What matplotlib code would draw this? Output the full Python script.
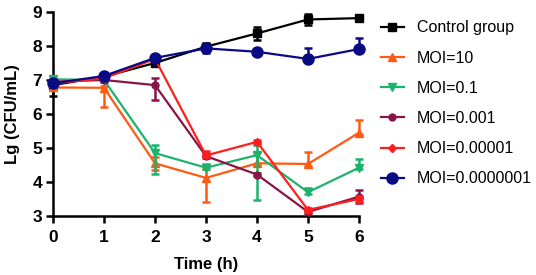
import numpy as np
import matplotlib
matplotlib.use("Agg")
import matplotlib.pyplot as plt
from matplotlib.lines import Line2D

plt.rcParams['font.family'] = ['Liberation Sans', 'DejaVu Sans']

hours = [0, 1, 2, 3, 4, 5, 6]

labels = ["Control group", "MOI=10", "MOI=0.1", "MOI=0.001",
          "MOI=0.00001", "MOI=0.0000001"]

# mean values, with lower / upper error bar lengths
control = [6.85, 7.10, 7.50, 7.98, 8.37, 8.78, 8.82]
control_lo = [0.33, 0.05, 0.05, 0.10, 0.20, 0.15, 0.05]
control_hi = [0.15, 0.05, 0.08, 0.10, 0.20, 0.15, 0.05]

moi_10 = [6.78, 6.77, 4.55, 4.12, 4.55, 4.53, 5.45]
moi_10_lo = [0.05, 0.57, 0.20, 0.72, 0.05, 0.05, 0.05]
moi_10_hi = [0.05, 0.05, 0.20, 0.26, 0.30, 0.35, 0.38]

moi_0_1 = [7.02, 7.00, 4.85, 4.42, 4.79, 3.70, 4.42]
moi_0_1_lo = [0.05, 0.05, 0.60, 0.05, 1.32, 0.05, 0.05]
moi_0_1_hi = [0.08, 0.05, 0.25, 0.10, 0.30, 0.12, 0.27]

moi_0_001 = [6.95, 7.00, 6.85, 4.76, 4.22, 3.12, 3.57]
moi_0_001_lo = [0.05, 0.05, 0.44, 0.05, 0.05, 0.05, 0.20]
moi_0_001_hi = [0.05, 0.05, 0.22, 0.08, 0.05, 0.05, 0.20]

moi_1e5 = [6.90, 7.05, 7.62, 4.78, 5.18, 3.18, 3.50]
moi_1e5_lo = [0.05, 0.05, 0.05, 0.05, 0.05, 0.05, 0.08]
moi_1e5_hi = [0.05, 0.05, 0.05, 0.12, 0.05, 0.06, 0.10]

moi_1e7 = [6.90, 7.12, 7.65, 7.93, 7.83, 7.62, 7.91]
moi_1e7_lo = [0.05, 0.05, 0.05, 0.15, 0.05, 0.05, 0.05]
moi_1e7_hi = [0.05, 0.05, 0.05, 0.05, 0.08, 0.33, 0.33]

series = [control, moi_10, moi_0_1, moi_0_001, moi_1e5, moi_1e7]
err_lo = [control_lo, moi_10_lo, moi_0_1_lo, moi_0_001_lo, moi_1e5_lo, moi_1e7_lo]
err_hi = [control_hi, moi_10_hi, moi_0_1_hi, moi_0_001_hi, moi_1e5_hi, moi_1e7_hi]

colors = ["#000000", "#FF5A14", "#1DB36E", "#8A1446", "#FF1E1E", "#0A0A85"]
markers = ["s", "^", "v", "o", "D", "o"]
msizes = [6, 6, 6, 5, 4, 8]

fig = plt.figure(figsize=(5.36, 2.75), dpi=100)
ax = fig.add_axes([53/536, 1 - 216/275, (359 - 53)/536, (216 - 12)/275])

# draw in reverse so the control group ends on top
order = [1, 2, 3, 4, 5, 0]
for i in order:
    ax.errorbar(hours, series[i], yerr=[err_lo[i], err_hi[i]], color=colors[i],
                marker=markers[i], markersize=msizes[i], linewidth=1.6,
                elinewidth=1.8, capsize=3, capthick=1.8,
                clip_on=False, zorder=3 + i)

ax.set_xlim(0, 6)
ax.set_ylim(3, 9)
ax.set_xticks(hours)
ax.set_yticks([3, 4, 5, 6, 7, 8, 9])
ax.spines['top'].set_visible(False)
ax.spines['right'].set_visible(False)
ax.spines['left'].set_linewidth(1.8)
ax.spines['bottom'].set_linewidth(1.8)
ax.tick_params(width=1.8, length=5, labelsize=12.5)
ax.tick_params(axis='x', pad=5)
ax.tick_params(axis='y', pad=3)
for t in ax.get_xticklabels() + ax.get_yticklabels():
    t.set_fontweight('bold')

ax.set_xlabel("Time (h)", fontsize=12, fontweight='bold', labelpad=9)
ax.set_ylabel("Lg (CFU/mL)", fontsize=12, fontweight='bold', labelpad=9)

handles = [Line2D([], [], color=colors[i], marker=markers[i],
                  markersize=msizes[i], linewidth=1.6) for i in range(6)]
ax.legend(handles, labels, loc='upper left', bbox_to_anchor=(1.05, 0.99),
          borderaxespad=0, frameon=False, fontsize=11.5, labelspacing=0.95,
          handlelength=1.45, handletextpad=0.8)

fig.savefig("out.png", dpi=100)
